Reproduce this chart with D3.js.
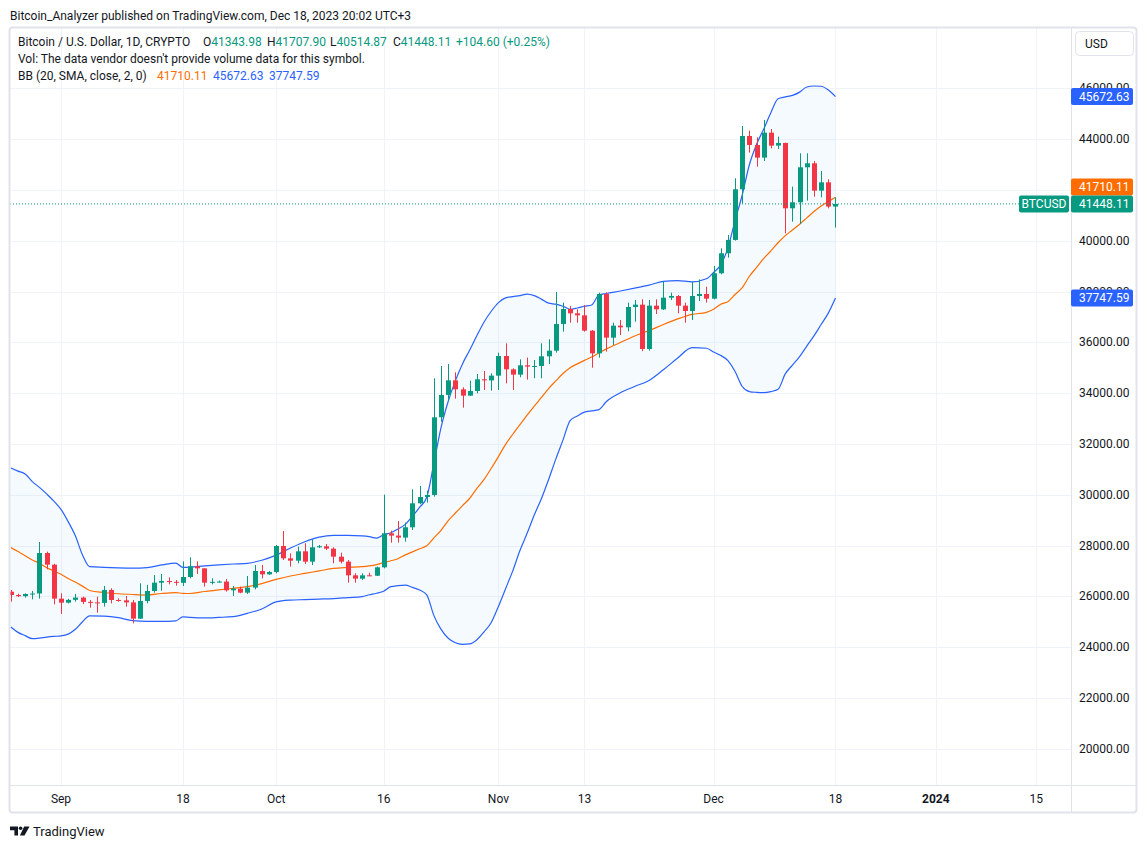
<!DOCTYPE html>
<html><head><meta charset="utf-8">
<script src="https://cdn.jsdelivr.net/npm/d3@7"></script>
<style>
html,body{margin:0;padding:0;background:#fff;}
svg{display:block;font-family:Roboto,"Noto Sans",sans-serif;}
</style></head><body>
<svg id="chart" width="1147" height="848"></svg>
<script>
// ---------------- DATA ----------------
const firstDay = "2023-08-25";
const lastDay  = "2023-12-18";
const open  = [26180,26051,26005,26091,26110,27705,27246,25908,25750,25860,25950,25780,25760,25740,26249,25855,25840,25760,25120,25816,26209,26537,26603,26570,26530,26760,27180,27101,26537,26570,26580,26236,26301,26144,26341,26996,26865,26957,27981,27495,27403,27771,27364,27928,27970,27876,27561,27364,26826,26695,26826,26810,27141,28480,28390,28311,28717,29662,29911,29990,33047,33926,34503,34149,33900,34084,34543,34500,34687,35461,34936,34727,35094,35042,35068,35448,35671,36721,37311,37141,37062,36458,35566,37902,36183,36655,36590,37390,37482,35737,37443,37298,37757,37823,37443,37233,37823,37902,37718,38718,39505,40030,42024,44123,43769,43270,44254,43743,43848,41276,41512,42890,43047,41971,42299,41343.98];
const high  = [26249,26100,26118,26210,28138,27758,27280,26118,25900,26091,25986,25855,25986,26406,26314,25921,26013,25855,26511,26450,26839,26878,26747,26642,27377,27534,27377,27101,26708,26620,26682,26406,26380,26800,27233,27233,27000,28020,28571,27692,27955,28086,28243,28020,28059,27928,27718,27430,26905,26905,26931,27170,30000,28586,28967,28901,30213,30344,30160,34582,35067,35146,34818,34228,34490,34752,34871,34779,35592,35960,34976,35330,35400,35304,35960,36118,37980,37561,37429,37298,37469,36485,37954,37967,36774,36878,37561,37666,37692,37666,37692,38400,37954,37862,37561,38387,38479,38190,39006,39701,40226,42457,44517,44333,44071,44753,44398,44097,43861,42129,43441,43441,43139,42745,42417,41707.90];
const low   = [25789,25970,25947,25880,25908,27062,25685,25304,25720,25790,25698,25553,25357,25593,25724,25790,25593,24937,25107,25724,26144,26222,26472,26419,26406,26708,26878,26380,26472,26540,26183,26013,26118,26091,26275,26708,26840,26905,27430,27167,27298,27272,27233,27900,27823,27298,27298,26537,26537,26642,26800,26800,27101,28113,28113,28153,28612,29623,29688,29924,32877,33703,33782,33428,33887,33992,34123,34097,34123,34385,34123,34622,34530,34583,34583,35147,35593,36419,36773,36773,36419,35002,35396,35632,35894,36288,36432,36813,35650,35671,37114,37272,37666,37141,36773,36878,37626,37561,37694,38678,39334,40003,41473,43467,42916,43139,43637,43611,40292,40751,40659,41578,41735,41709,41276,40514.87];
const close = [26051,26005,26091,26110,27705,27246,25908,25750,25860,25950,25780,25760,25740,26249,25855,25840,25760,25120,25816,26209,26537,26603,26570,26530,26760,27180,27101,26537,26570,26580,26236,26301,26144,26341,26996,26865,26957,27981,27495,27403,27771,27364,27928,27970,27876,27561,27364,26826,26695,26826,26810,27141,28480,28390,28311,28717,29662,29911,29990,33047,33926,34503,34149,33900,34084,34543,34500,34687,35461,34936,34727,35094,35042,35068,35448,35671,36721,37311,37141,37062,36458,35566,37902,36183,36655,36590,37390,37482,35737,37443,37298,37757,37823,37443,37233,37823,37902,37718,38718,39505,40030,42024,44123,43769,43270,44254,43743,43848,41276,41512,42890,43047,41971,42299,41343.51,41448.11];

// Bollinger Bands (20, SMA, close, 2)
const bandDates = ["2023-08-25","2023-08-26","2023-08-27","2023-08-28","2023-08-29","2023-08-30","2023-08-31","2023-09-01","2023-09-02","2023-09-03","2023-09-04","2023-09-05","2023-09-07","2023-09-09","2023-09-11","2023-09-13","2023-09-15","2023-09-17","2023-09-18","2023-09-19","2023-09-21","2023-09-23","2023-09-25","2023-09-27","2023-09-29","2023-10-01","2023-10-03","2023-10-05","2023-10-07","2023-10-09","2023-10-11","2023-10-13","2023-10-14","2023-10-15","2023-10-16","2023-10-17","2023-10-18","2023-10-19","2023-10-20","2023-10-21","2023-10-22","2023-10-23","2023-10-24","2023-10-25","2023-10-26","2023-10-27","2023-10-28","2023-10-29","2023-10-30","2023-10-31","2023-11-01","2023-11-02","2023-11-03","2023-11-04","2023-11-05","2023-11-06","2023-11-07","2023-11-08","2023-11-09","2023-11-10","2023-11-11","2023-11-12","2023-11-13","2023-11-14","2023-11-15","2023-11-16","2023-11-18","2023-11-20","2023-11-22","2023-11-24","2023-11-26","2023-11-28","2023-11-30","2023-12-01","2023-12-02","2023-12-03","2023-12-04","2023-12-05","2023-12-06","2023-12-07","2023-12-08","2023-12-09","2023-12-10","2023-12-11","2023-12-12","2023-12-13","2023-12-14","2023-12-15","2023-12-16","2023-12-17","2023-12-18"];
const bbUpper = [31050,30930,30815,30514,30290,30030,29750,29420,28940,28380,27627,27168,27140,27120,27110,27130,27234,27310,27140,27150,27200,27240,27272,27300,27420,27620,27900,28150,28330,28400,28400,28380,28348,28290,28420,28500,28650,28830,29150,29500,29900,31240,32650,33680,34490,35160,35700,36265,36800,37222,37561,37750,37800,37840,37900,37840,37700,37540,37500,37420,37300,37350,37420,37470,37860,37920,38020,38130,38250,38400,38430,38380,38500,38750,39050,39720,40800,41800,43000,43800,44400,45050,45590,45660,45720,45850,46050,46090,46080,45930,45672.63];
const bbBasis = [27920,27760,27600,27430,27300,27130,27000,26870,26700,26560,26400,26230,26150,26100,26070,26050,26110,26144,26118,26110,26190,26250,26314,26380,26500,26669,26800,26900,27000,27101,27140,27167,27200,27250,27327,27400,27480,27630,27750,27870,27990,28300,28600,28980,29280,29570,29860,30250,30600,31040,31500,31980,32380,32760,33130,33490,33830,34180,34480,34770,35000,35150,35290,35420,35580,35730,35990,36250,36460,36700,36920,37100,37180,37300,37500,37600,37880,38150,38600,38950,39300,39600,39920,40200,40420,40650,40900,41150,41370,41540,41710.11];
const bbLower = [24790,24580,24450,24330,24350,24390,24420,24440,24510,24700,25000,25230,25220,25160,25040,25010,25010,25030,25190,25170,25150,25170,25200,25330,25500,25780,25850,25870,25890,25910,25950,25990,26060,26120,26200,26380,26420,26440,26350,26250,26060,25240,24700,24350,24170,24110,24126,24290,24600,24970,25600,26300,27000,27800,28480,29200,29850,30600,31400,32150,32920,33100,33250,33300,33350,33650,34010,34260,34500,34920,35380,35790,35766,35620,35480,35280,34850,34260,34060,34030,34020,34060,34150,34755,35100,35440,35850,36250,36700,37150,37747.59];

const yTickValues = [20000,22000,24000,26000,28000,30000,32000,34000,36000,38000,40000,42000,44000,46000];
const xTickDates  = ["2023-09-01","2023-09-18","2023-10-01","2023-10-16","2023-11-01","2023-11-13","2023-12-01","2023-12-18","2024-01-01","2024-01-15"];
const xTickLabels = ["Sep","18","Oct","16","Nov","13","Dec","18","2024","15"];
const xTickBold   = [false,false,false,false,false,false,false,false,true,false];

// ---------------- LAYOUT / STYLE ----------------
const W = 1147, H = 848;
const plot = {left: 10, right: 1071, top: 28, bottom: 785};
const UP = "#089981", DOWN = "#f23645", TXT = "#131722", GRID = "#f0f3fa", BORDER = "#e0e3eb";
const BLUE = "#2962ff", ORANGE = "#ff6d00";

const parse = d3.utcParse("%Y-%m-%d");
const dates = d3.utcDay.range(parse(firstDay), d3.utcDay.offset(parse(lastDay), 1));
const candles = dates.map((d, i) => ({d, o: open[i], h: high[i], l: low[i], c: close[i]}));
const band = bandDates.map((s, i) => ({d: parse(s), u: bbUpper[i], m: bbBasis[i], lo: bbLower[i]}));

const DAY = 864e5, sep1 = parse("2023-09-01").getTime();
const x = d3.scaleUtc()
  .domain([new Date(sep1 - 7.112 * DAY), new Date(sep1 + 140.845 * DAY)])
  .range([plot.left, plot.right]);
const y = d3.scaleLinear().domain([18571, 48374]).range([plot.bottom, plot.top]);

const svg = d3.select("#chart");
svg.append("rect").attr("width", W).attr("height", H).attr("fill", "#fff");

// header
svg.append("text").attr("x", 10).attr("y", 15.5).attr("dominant-baseline", "central")
  .attr("font-size", 12).attr("fill", TXT)
  .text("Bitcoin_Analyzer published on TradingView.com, Dec 18, 2023 20:02 UTC+3");

// clip
svg.append("clipPath").attr("id", "plotclip").append("rect")
  .attr("x", plot.left).attr("y", plot.top)
  .attr("width", plot.right - plot.left).attr("height", plot.bottom - plot.top);

// grid
const grid = svg.append("g");
grid.selectAll("line.h").data(yTickValues).join("line")
  .attr("x1", plot.left).attr("x2", plot.right)
  .attr("y1", d => Math.round(y(d)) + 0.5).attr("y2", d => Math.round(y(d)) + 0.5)
  .attr("stroke", GRID).attr("stroke-width", 1);
grid.selectAll("line.v").data(xTickDates).join("line")
  .attr("x1", d => Math.round(x(parse(d))) + 0.5).attr("x2", d => Math.round(x(parse(d))) + 0.5)
  .attr("y1", plot.top).attr("y2", plot.bottom)
  .attr("stroke", GRID).attr("stroke-width", 1);

const pg = svg.append("g").attr("clip-path", "url(#plotclip)");

// BB fill + lines
pg.append("path").datum(band)
  .attr("d", d3.area().x(d => x(d.d)).y0(d => y(d.lo)).y1(d => y(d.u)).curve(d3.curveMonotoneX))
  .attr("fill", "rgba(33,150,243,0.05)");
[["u", BLUE], ["lo", BLUE], ["m", ORANGE]].forEach(([k, col]) => {
  pg.append("path").datum(band)
    .attr("d", d3.line().x(d => x(d.d)).y(d => y(d[k])).curve(d3.curveMonotoneX))
    .attr("fill", "none").attr("stroke", col).attr("stroke-width", 1.2);
});

// candles
const cg = pg.append("g");
candles.forEach(k => {
  const cx = Math.round(x(k.d));
  const col = k.c >= k.o ? UP : DOWN;
  cg.append("line").attr("x1", cx + 0.5).attr("x2", cx + 0.5)
    .attr("y1", y(k.h)).attr("y2", y(k.l)).attr("stroke", col).attr("stroke-width", 1);
  const top = y(Math.max(k.o, k.c)), bot = y(Math.min(k.o, k.c));
  cg.append("rect").attr("x", cx - 2).attr("width", 5)
    .attr("y", top).attr("height", Math.max(1, bot - top)).attr("fill", col);
});

// last price dotted line
const last = candles[candles.length - 1];
svg.append("line").attr("x1", plot.left).attr("x2", 1019)
  .attr("y1", y(last.c)).attr("y2", y(last.c))
  .attr("stroke", UP).attr("stroke-width", 1).attr("stroke-dasharray", "1,2");

// frame & separators
svg.append("line").attr("x1", plot.right + 0.5).attr("x2", plot.right + 0.5).attr("y1", plot.top).attr("y2", 812)
  .attr("stroke", BORDER);
svg.append("line").attr("x1", 10).attr("x2", 1136).attr("y1", plot.bottom + 0.5).attr("y2", plot.bottom + 0.5)
  .attr("stroke", BORDER);
svg.append("rect").attr("x", 9.5).attr("y", 27.5).attr("width", 1127).attr("height", 785)
  .attr("rx", 3).attr("fill", "none").attr("stroke", BORDER).attr("stroke-width", 2);

// price tags (positions)
const lastU = bbUpper[bbUpper.length - 1], lastM = bbBasis[bbBasis.length - 1], lastL = bbLower[bbLower.length - 1];
const TAGH = 17;
const greenY = y(last.c);
let orangeY = y(lastM);
if (Math.abs(orangeY - greenY) < TAGH) orangeY = greenY - TAGH;
const tagYs = [y(lastU), orangeY, greenY, y(lastL)];

// y-axis labels (a label sitting right under a tag is hidden, as in TradingView)
svg.append("g").selectAll("text")
  .data(yTickValues.filter(v => tagYs.every(t => Math.abs(y(v) - t) > 6)))
  .join("text")
  .attr("x", 1079).attr("y", d => y(d)).attr("dominant-baseline", "central")
  .attr("font-size", 12).attr("fill", TXT).text(d => d3.format(".2f")(d));

// x-axis labels
svg.append("g").selectAll("text").data(xTickDates).join("text")
  .attr("x", d => x(parse(d))).attr("y", 799).attr("dominant-baseline", "central")
  .attr("text-anchor", "middle").attr("font-size", 12).attr("fill", TXT)
  .attr("font-weight", (d, i) => xTickBold[i] ? "bold" : "normal")
  .text((d, i) => xTickLabels[i]);

// USD box
svg.append("rect").attr("x", 1075.5).attr("y", 31.5).attr("width", 58).attr("height", 24).attr("rx", 4)
  .attr("fill", "#fff").attr("stroke", BORDER);
svg.append("text").attr("x", 1085).attr("y", 44).attr("dominant-baseline", "central")
  .attr("font-size", 12).attr("fill", TXT).text("USD");

function tag(cy, bg, val) {
  svg.append("rect").attr("x", plot.right).attr("y", cy - TAGH / 2).attr("width", 62).attr("height", TAGH)
    .attr("rx", 2).attr("fill", bg);
  svg.append("text").attr("x", 1079).attr("y", cy).attr("dominant-baseline", "central")
    .attr("font-size", 12).attr("fill", "#fff").text(d3.format(".2f")(val));
}
tag(tagYs[0], BLUE, lastU);
tag(tagYs[1], ORANGE, lastM);
tag(tagYs[2], UP, last.c);
tag(tagYs[3], BLUE, lastL);
svg.append("rect").attr("x", 1019).attr("y", greenY - TAGH / 2).attr("width", 50).attr("height", TAGH)
  .attr("rx", 2).attr("fill", UP);
svg.append("text").attr("x", 1044).attr("y", greenY).attr("dominant-baseline", "central")
  .attr("text-anchor", "middle").attr("font-size", 12).attr("fill", "#fff").text("BTCUSD");

// legend
const fmt = d3.format(".2f");
const prev = close[close.length - 2];
const chg = last.c - prev;
const lg = svg.append("g").attr("font-size", 12);
lg.append("text").attr("x", 18).attr("y", 42).attr("dominant-baseline", "central").attr("fill", TXT)
  .text("Bitcoin / U.S. Dollar, 1D, CRYPTO");
[["O", last.o, 203], ["H", last.h, 267], ["L", last.l, 330], ["C", last.c, 393]].forEach(([lab, v, px]) => {
  const t = lg.append("text").attr("x", px).attr("y", 42).attr("dominant-baseline", "central");
  t.append("tspan").attr("fill", TXT).text(lab);
  t.append("tspan").attr("fill", UP).text(fmt(v));
});
lg.append("text").attr("x", 456).attr("y", 42).attr("dominant-baseline", "central").attr("fill", UP)
  .text((chg >= 0 ? "+" : "") + fmt(chg) + " (" + (chg >= 0 ? "+" : "") + fmt(chg / prev * 100) + "%)");
lg.append("text").attr("x", 18).attr("y", 59).attr("dominant-baseline", "central").attr("fill", TXT)
  .text("Vol: The data vendor doesn't provide volume data for this symbol.");
lg.append("text").attr("x", 18).attr("y", 76).attr("dominant-baseline", "central").attr("fill", TXT)
  .text("BB (20, SMA, close, 2, 0)");
[[lastM, ORANGE, 157], [lastU, BLUE, 213], [lastL, BLUE, 269]].forEach(([v, col, px]) => {
  lg.append("text").attr("x", px).attr("y", 76).attr("dominant-baseline", "central").attr("fill", col).text(fmt(v));
});

// TradingView logo
const logo = svg.append("g").attr("fill", TXT);
logo.append("path").attr("d", "M10 826.5 h8 v9 h-3.6 v-5.2 h-4.4 z");
logo.append("circle").attr("cx", 20.6).attr("cy", 828.3).attr("r", 1.8);
logo.append("path").attr("d", "M24.2 826.5 h5.3 l-5 9 h-4.6 z");
svg.append("text").attr("x", 33).attr("y", 831).attr("dominant-baseline", "central")
  .attr("font-size", 13).attr("fill", TXT).text("TradingView");
</script>
</body></html>
